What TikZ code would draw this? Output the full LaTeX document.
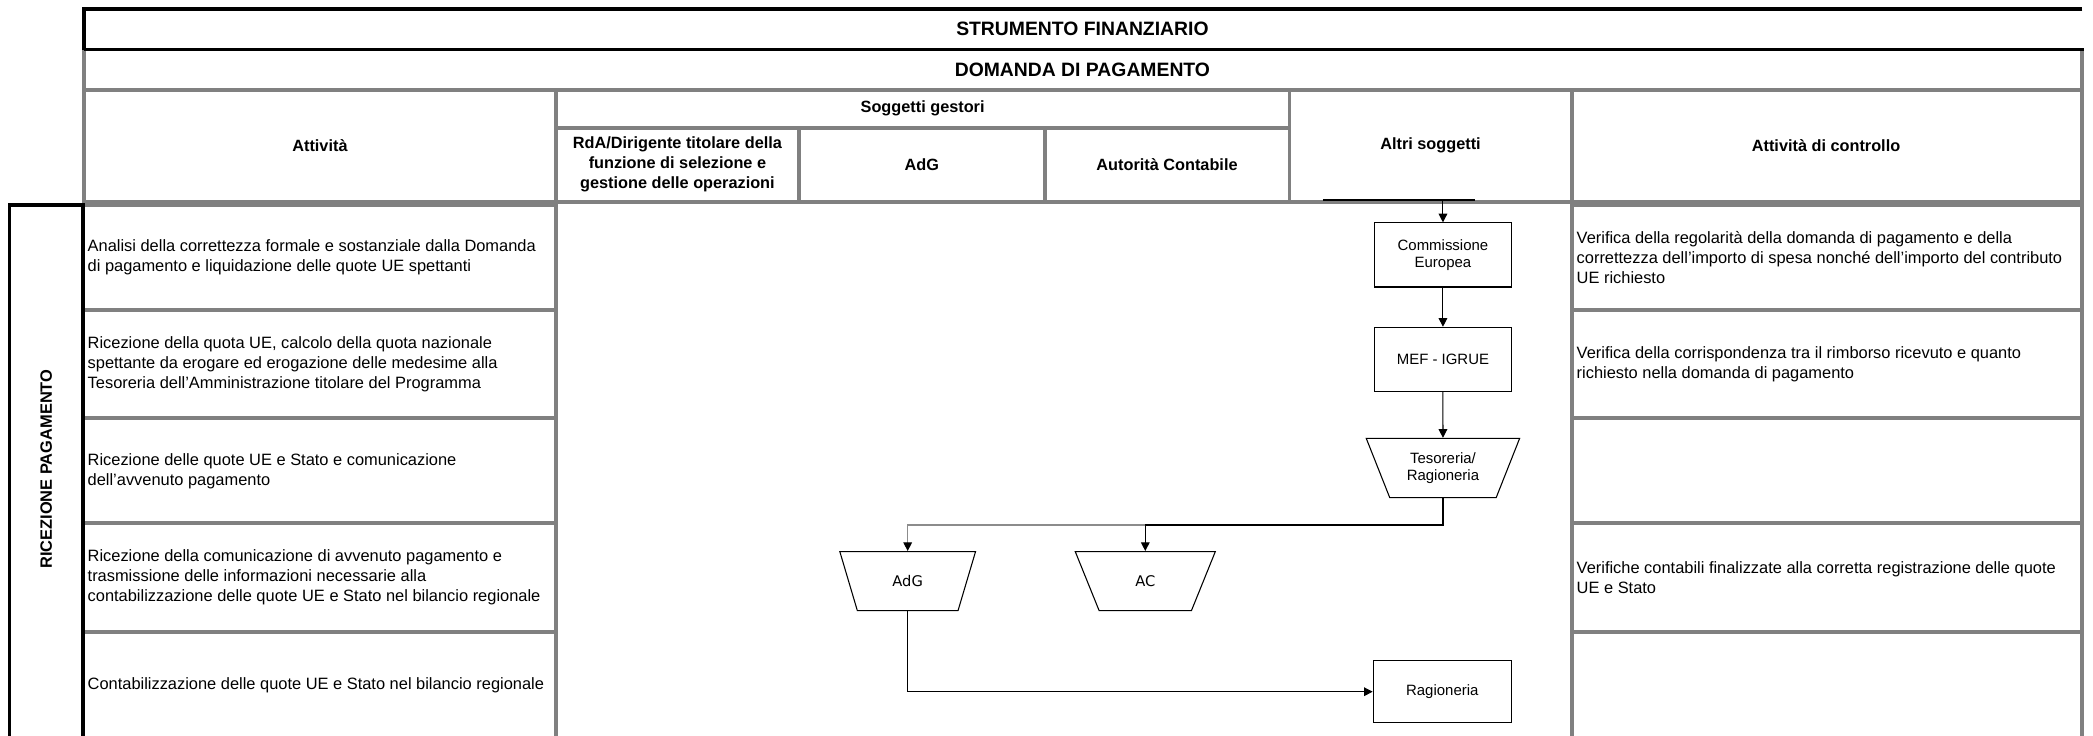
\documentclass[tikz,border=0pt]{standalone}
\usepackage{fontspec}
\setmainfont{Liberation Sans}
\newfontfamily\shapefont{DejaVu Sans}
\usetikzlibrary{shapes.geometric,arrows.meta}

\definecolor{rulegray}{HTML}{808080}

\tikzset{
  frame/.style={line width=2.7pt, black},
  grid/.style={line width=2.8pt, rulegray, line cap=rect},
  title/.style={font=\fontsize{14.5}{17}\selectfont\bfseries, inner sep=0},
  head/.style={font=\fontsize{12.2}{15}\selectfont\bfseries, align=center, inner sep=0},
  body/.style={font=\fontsize{12.3}{15}\selectfont, align=left, anchor=west, inner sep=0},
  box/.style={draw, line width=0.8pt, minimum width=102.6pt, minimum height=48pt,
    inner sep=0, font=\fontsize{11.2}{13}\selectfont, align=center},
  trap/.style={draw, line width=0.8pt, trapezium, shape border rotate=180,
    trapezium stretches=true, inner sep=0, align=center},
  tip/.style={-{Triangle[length=6.5pt,width=6.5pt,color=black]}},
  conn/.style={line width=0.8pt, tip},
}

\begin{document}
\begin{tikzpicture}[x=1pt,y=-1pt]
\useasboundingbox (0,0) rectangle (1568,551);
\clip (0,0) rectangle (1568,551);

% ---- title rows ----
\draw[grid] (63,37.2) -- (63,151.5) -- (1559.8,151.5) -- (1559.8,37.2);
\draw[grid] (63,67.2) -- (1559.8,67.2);
\draw[frame] (1560,6.9) -- (63,6.9) -- (63,37.2);
\draw[frame] (63,37.2) -- (1561.5,37.2);

% ---- column headers ----
\draw[grid] (416.4,67.2) -- (416.4,151.5);
\draw[grid] (966,67.2) -- (966,151.5);
\draw[grid] (1177.4,67.2) -- (1177.4,151.5);
\draw[grid] (416.4,95.7) -- (966,95.7);
\draw[grid] (598.6,95.7) -- (598.6,151.5);
\draw[grid] (782.6,95.7) -- (782.6,151.5);

\node[title] (tstrum) at (810.9,21.9) {STRUMENTO FINANZIARIO};
\node[title] (tdom) at (810.9,52.1) {DOMANDA DI PAGAMENTO};
\node[head] (hatt) at (239.7,108.9) {Attività};
\node[head] (hsog) at (691.2,81.4) {Soggetti gestori};
\node[head] (hrda) at (507.5,123.2) {RdA/Dirigente titolare della\\funzione di selezione e\\gestione delle operazioni};
\node[head] (hadg) at (690.6,123.2) {AdG};
\node[head] (hauc) at (874.3,123.2) {Autorità Contabile};
\node[head] (halt) at (1071.7,108.9) {Altri soggetti};
\node[head] (hctl) at (1368,108.9) {Attività di controllo};

% ---- body rows ----
\foreach \yy in {153.8,232.2,313.4,392,473.2} {
  \draw[grid] (62,\yy) -- (416.4,\yy);
  \draw[grid] (1177.4,\yy) -- (1559.8,\yy);
}
\draw[grid] (416.4,153.8) -- (416.4,560);
\draw[grid] (1177.4,153.8) -- (1177.4,560);
\draw[grid] (1559.8,153.8) -- (1559.8,560);
\draw[frame] (7.2,560) -- (7.2,153.5) -- (62,153.5) -- (62,560);

\node[head, rotate=90, font=\fontsize{12.3}{15}\selectfont\bfseries] (phase) at (34.6,351.5) {RICEZIONE PAGAMENTO};

\node[body] (a1) at (65.5,192.9) {Analisi della correttezza formale e sostanziale dalla Domanda\\di pagamento e liquidazione delle quote UE spettanti};
\node[body] (a2) at (65.5,272.8) {Ricezione della quota UE, calcolo della quota nazionale\\spettante da erogare ed erogazione delle medesime alla\\Tesoreria dell'Amministrazione titolare del Programma};
\node[body] (a3) at (65.5,352.7) {Ricezione delle quote UE e Stato e comunicazione\\dell'avvenuto pagamento};
\node[body] (a4) at (65.5,432.6) {Ricezione della comunicazione di avvenuto pagamento e\\trasmissione delle informazioni necessarie alla\\contabilizzazione delle quote UE e Stato nel bilancio regionale};
\node[body] (a5) at (65.5,513.6) {Contabilizzazione delle quote UE e Stato nel bilancio regionale};

\node[body] (c1) at (1181,192.9) {Verifica della regolarità della domanda di pagamento e della\\correttezza dell'importo di spesa nonché dell'importo del contributo\\UE richiesto};
\node[body] (c2) at (1181,272.8) {Verifica della corrispondenza tra il rimborso ricevuto e quanto\\richiesto nella domanda di pagamento};
\node[body] (c4) at (1181,432.6) {Verifiche contabili finalizzate alla corretta registrazione delle quote\\UE e Stato};

% ---- flow ----
\coordinate (lanel) at (991,149.8);
\coordinate (laner) at (1105,149.8);
\coordinate (entry) at (1081,150.2);
\draw[line width=0.9pt] (lanel) -- (laner);

\node[box] (ce) at (1081,191) {Commissione\\Europea};
\node[box] (mef) at (1081,269.2) {MEF - IGRUE};
\node[trap, trapezium angle=63, minimum width=115pt, minimum height=44.4pt,
  font=\fontsize{11.2}{13}\selectfont] (tes) at (1081,350.6) {Tesoreria/\\Ragioneria};
\node[trap, trapezium angle=65, minimum width=102pt, minimum height=44.2pt,
  font=\shapefont\fontsize{11}{13}\selectfont] (adg) at (680,435.3) {AdG};
\node[trap, trapezium angle=65, minimum width=105pt, minimum height=44.2pt,
  font=\shapefont\fontsize{11}{13}\selectfont] (ac) at (858,435.3) {AC};
\node[box, minimum width=103.5pt, minimum height=46.4pt] (rag) at (1080.5,518.2) {Ragioneria};

\coordinate (bus) at (0,393.3);

\draw[conn] (entry) -- (ce.north);
\draw[conn] (ce.south) -- (mef.north);
\draw[conn] (mef.south) -- (tes.north);
\draw[line width=0.8pt, black!45, tip]
  (tes.south) -- (tes.south |- bus) -| (adg.north);
\draw[conn] (tes.south) -- (tes.south |- bus) -| (ac.north);
\draw[conn] (adg.south) |- (rag.west);

\end{tikzpicture}
\end{document}
